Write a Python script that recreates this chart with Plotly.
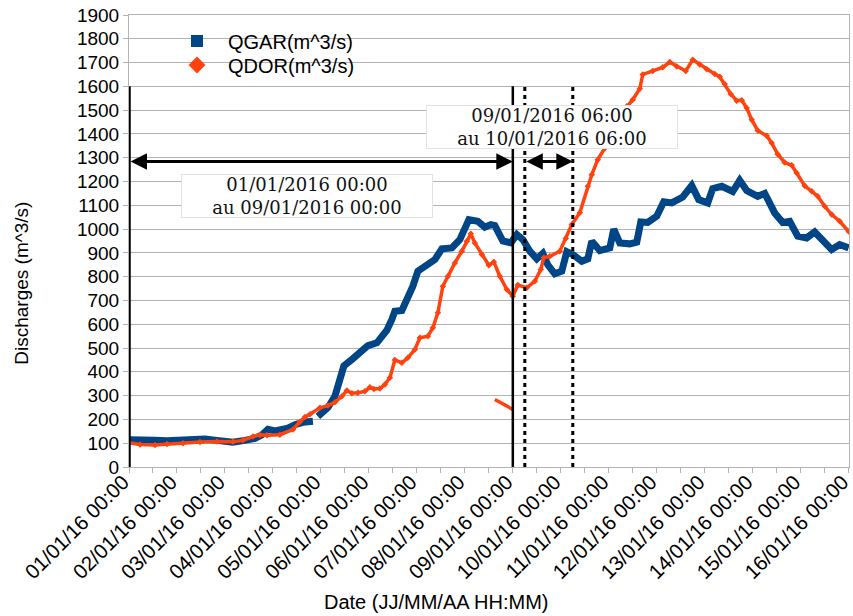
import pandas as pd
import plotly.graph_objects as go

# Hours elapsed since 01/01/2016 00:00 and discharges (m^3/s)
qgar_hours = [0, 7, 13, 19, 27, 33, 38, 44, 52, 58, 63, 66.5, 69.5, 73, 79.5, 83, 87, 92,
              93, 94.5, 99.5, 103, 105.5, 107.5, 111.5, 115.5, 119.5, 124, 126.5, 129, 131.5,
              133, 136.5, 139, 142, 144.5, 149, 153, 156.5, 161.5, 165.5, 168, 170, 174.5,
              178, 181, 183, 187, 191, 194, 197, 200.5, 204, 207, 209.5, 213, 216.5, 219,
              222, 226.5, 229.5, 231.5, 235.5, 240.5, 242.5, 245.5, 250.5, 254, 256, 259.5,
              264, 267.5, 271.5, 277, 281.5, 285, 289.5, 292, 296.5, 302, 305.5, 309, 314.5,
              318, 323, 327, 330.5, 334.5, 339, 343, 347, 351.5, 355.5, 360]
qgar_values = [115, 116, 112, 110, 116, 121, 118, 112, 104, 112, 120, 135, 158, 152, 163, 178, 188, 192,
               None, 213, 250, 297, 360, 425, 452, 480, 510, 522, 545, 575, 620,
               655, 658, 704, 760, 823, 847, 872, 917, 921, 956, 1005, 1040, 1033,
               1008, 1019, 1015, 950, 942, 977, 956, 907, 875, 898, 850, 812, 823, 905,
               893, 865, 875, 949, 910, 921, 1000, 942, 938, 945, 1030, 1028,
               1054, 1115, 1110, 1135, 1183, 1124, 1110, 1170, 1180, 1158, 1205, 1162, 1138,
               1150, 1068, 1028, 1033, 970, 963, 988, 949, 914, 935, 921]

qdor_hours = [0, 5.5, 13, 19, 27, 35.5, 44, 52, 57, 62, 65.5, 69, 75.5, 82, 85.5, 88, 90.5,
              95.5, 99.5, 103, 106.5, 109, 111.5, 114.5, 118, 120.5, 122.5, 125.5, 128, 130.5,
              133, 136.5, 139.5, 143, 145.5, 149.5, 152, 154.5, 157, 159.5, 163, 166.5, 169,
              171, 173, 176.5, 180, 182.5, 185.5, 189, 192, 194.5, 199, 203, 206, 207.5, 210.5,
              215.5, 218.5, 221.5, 225.5, 229.5, 231.5, 234.5, 238, 242, 249, 252, 255.5, 257,
              262, 267, 270.5, 274, 278.5, 282, 285.5, 289, 293, 295.5, 298, 301, 304, 306.5,
              309, 311.5, 314.5, 319, 321.5, 324.5, 328, 331.5, 334, 338, 341.5, 344.5, 348,
              351.5, 355.5, 360]
qdor_values = [102, 95, 93, 97, 100, 105, 107, 106, 112, 128, 135, 133, 136, 158, 190, 210, 222,
               249, 258, 272, 297, 322, 310, 312, 318, 335, 328, 330, 347, 375,
               450, 438, 459, 494, 543, 550, 585, 648, 760, 802, 858, 907, 949,
               980, 942, 893, 848, 862, 802, 746, 718, 765, 753, 781, 830, 880, 886,
               907, 960, 1019, 1069, 1180, 1229, 1292, 1340, 1440, 1516, 1544, 1590, 1650,
               1665, 1680, 1702, 1684, 1665, 1712, 1692, 1672, 1652, 1640, 1610, 1568, 1540, 1542,
               1509, 1460, 1415, 1392, 1362, 1315, 1280, 1268, 1236, 1182, 1159, 1138, 1096,
               1061, 1033, 990]

# Short isolated QDOR stretch recorded on 08/01 afternoon
qdor_low_hours = [183, 192]
qdor_low_values = [284, 242]

y_ticks = list(range(0, 2000, 100))

BLUE = "#004586"
ORANGE = "#ff420e"
GRID = "#b3b3b3"
START = pd.Timestamp("2016-01-01 00:00")


def to_dates(hours):
    return [START + pd.Timedelta(hours=h) for h in hours]


# Page geometry (pixels)
L, R, T, B = 129, 4, 15, 148.5
W, H = 853, 616
pw, ph = W - L - R, H - T - B


def px_x(x):
    return (x - L) / pw


def px_y(y):
    return 1 - (y - T) / ph


fig = go.Figure()

fig.add_trace(go.Scatter(
    x=to_dates(qgar_hours), y=qgar_values, mode="lines",
    line=dict(color=BLUE, width=7), connectgaps=False, showlegend=False,
))
fig.add_trace(go.Scatter(
    x=to_dates(qdor_hours), y=qdor_values, mode="lines+markers",
    line=dict(color=ORANGE, width=3.5), marker=dict(symbol="diamond", size=5, color=ORANGE),
    showlegend=False,
))
fig.add_trace(go.Scatter(
    x=to_dates(qdor_low_hours), y=qdor_low_values, mode="lines",
    line=dict(color=ORANGE, width=3.5), showlegend=False,
))

# Legend entries (marker symbols only), one legend box per series
fig.add_trace(go.Scatter(
    x=[None], y=[None], mode="markers", name="QGAR(m^3/s)", legend="legend",
    marker=dict(symbol="square", size=12, color=BLUE),
))
fig.add_trace(go.Scatter(
    x=[None], y=[None], mode="markers", name="QDOR(m^3/s)", legend="legend2",
    marker=dict(symbol="diamond", size=13, color=ORANGE),
))

# Reference instants
t0 = START
t_end1 = START + pd.Timedelta(hours=192)   # 09/01/2016 00:00
t_a = START + pd.Timedelta(hours=198)      # 09/01/2016 06:00
t_b = START + pd.Timedelta(hours=222)      # 10/01/2016 06:00

shapes = [
    dict(type="line", x0=t0, x1=t0, y0=0, y1=1600, xref="x", yref="y",
         line=dict(color="black", width=3.5)),
    dict(type="line", x0=t_end1, x1=t_end1, y0=0, y1=1600, xref="x", yref="y",
         line=dict(color="black", width=2.5)),
    dict(type="line", x0=t_a, x1=t_a, y0=0, y1=1600, xref="x", yref="y",
         line=dict(color="black", width=3, dash="4px,4px")),
    dict(type="line", x0=t_b, x1=t_b, y0=0, y1=1600, xref="x", yref="y",
         line=dict(color="black", width=3, dash="4px,4px")),
]

arrow_y = 1284
annotations = [
    dict(x=t_end1, y=arrow_y, ax=t0, ay=arrow_y, xref="x", yref="y", axref="x", ayref="y",
         text="", showarrow=True, arrowside="end+start", arrowhead=2, arrowsize=1.1,
         arrowwidth=3, arrowcolor="black", standoff=0, startstandoff=0),
    dict(x=t_b, y=arrow_y, ax=t_a, ay=arrow_y, xref="x", yref="y", axref="x", ayref="y",
         text="", showarrow=True, arrowside="end+start", arrowhead=2, arrowsize=1.1,
         arrowwidth=3, arrowcolor="black", standoff=0, startstandoff=0),
    dict(x=START + pd.Timedelta(hours=89), y=1139, xref="x", yref="y",
         text="01/01/2016 00:00<br>au 09/01/2016 00:00", showarrow=False,
         font=dict(family="DejaVu Serif", size=18, color="#111111"),
         bgcolor="white", bordercolor="#e3e3e3", borderwidth=1, width=248, height=40),
    dict(x=START + pd.Timedelta(hours=211.75), y=1429, xref="x", yref="y",
         text="09/01/2016 06:00<br>au 10/01/2016 06:00", showarrow=False,
         font=dict(family="DejaVu Serif", size=18, color="#111111"),
         bgcolor="white", bordercolor="#e3e3e3", borderwidth=1, width=248, height=40),
    dict(x=px_x(22), y=px_y(284), xref="paper", yref="paper", text="Discharges (m^3/s)",
         showarrow=False, textangle=-90, xanchor="center", yanchor="middle",
         font=dict(family="Liberation Sans", size=19, color="black")),
    dict(x=px_x(436), y=px_y(603), xref="paper", yref="paper", text="Date (JJ/MM/AA HH:MM)",
         showarrow=False, xanchor="center", yanchor="middle",
         font=dict(family="Liberation Sans", size=20, color="black")),
]

legend_style = dict(xanchor="left", yanchor="middle", bgcolor="rgba(0,0,0,0)", itemwidth=52,
                    font=dict(family="Liberation Sans", size=20, color="black"))

fig.update_layout(
    width=W, height=H,
    margin=dict(l=L, r=R, t=T, b=B, pad=0, autoexpand=False),
    plot_bgcolor="white", paper_bgcolor="white",
    font=dict(family="Liberation Sans", color="black"),
    shapes=shapes, annotations=annotations,
    legend=dict(x=px_x(166), y=px_y(41), **legend_style),
    legend2=dict(x=px_x(166), y=px_y(65), **legend_style),
    xaxis=dict(
        type="date", range=[START, START + pd.Timedelta(days=15, minutes=10)],
        tick0=START, dtick=86400000, tickformat="%d/%m/%y %H:%M", tickangle=-45,
        ticks="outside", ticklen=5, tickcolor=GRID, ticklabelstandoff=-11,
        ticklabelshift=-6, ticklabeloverflow="allow", automargin=False,
        minor=dict(dtick=43200000, ticks="outside", ticklen=5, tickcolor=GRID, showgrid=False),
        showgrid=False, showline=True, linecolor=GRID, linewidth=1, mirror=True,
        tickfont=dict(family="Liberation Sans", size=20.5, color="black"), zeroline=False,
    ),
    yaxis=dict(
        range=[0, 1900], tickvals=y_ticks, ticks="outside", ticklen=5, tickcolor=GRID,
        showgrid=True, gridcolor=GRID, gridwidth=1, automargin=False,
        showline=True, linecolor=GRID, linewidth=1, mirror=True, zeroline=False,
        tickfont=dict(family="Liberation Sans", size=19, color="black"),
    ),
)

fig.write_html("out.html")
